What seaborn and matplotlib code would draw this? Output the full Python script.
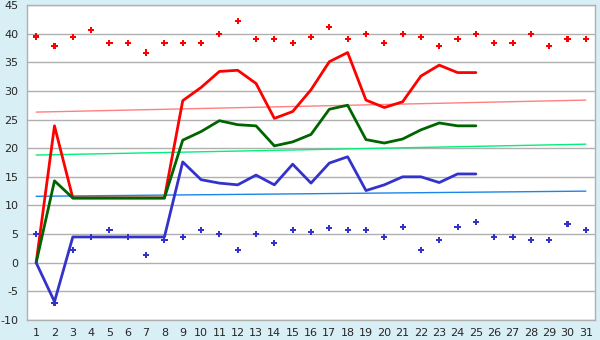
import numpy as np
import pandas as pd
import matplotlib
matplotlib.use("Agg")
import matplotlib.pyplot as plt
import seaborn as sns

# days on the x axis
days = list(range(1, 32))

# scatter series (upper red dots, lower blue dots)
red_dots = [39.5, 37.8, 39.4, 40.6, 38.3, 38.3, 36.7, 38.3, 38.3, 38.3,
            40.0, 42.2, 39.0, 39.0, 38.3, 39.4, 41.1, 39.0, 40.0, 38.3,
            40.0, 39.4, 37.9, 39.0, 40.0, 38.3, 38.3, 40.0, 37.8, 39.0, 39.0]
blue_dots = [5.0, -7.1, 2.2, 4.5, 5.7, 4.5, 1.3, 3.9, 4.5, 5.7,
             5.0, 2.2, 5.0, 3.4, 5.7, 5.3, 6.0, 5.7, 5.7, 4.5,
             6.2, 2.2, 3.9, 6.2, 7.1, 4.5, 4.5, 3.9, 3.9, 6.7, 5.7]

# line series (days 1..25)
line_days = list(range(1, 26))
red_line = [0, 23.9, 11.3, 11.3, 11.3, 11.3, 11.3, 11.3, 28.3, 30.6,
            33.4, 33.6, 31.3, 25.2, 26.4, 30.2, 35.1, 36.7, 28.4, 27.1,
            28.1, 32.6, 34.5, 33.2, 33.2]
green_line = [0, 14.3, 11.3, 11.3, 11.3, 11.3, 11.3, 11.3, 21.4, 22.9,
              24.8, 24.1, 23.9, 20.4, 21.1, 22.4, 26.8, 27.5, 21.5, 20.9,
              21.6, 23.2, 24.4, 23.9, 23.9]
blue_line = [0, -6.8, 4.5, 4.5, 4.5, 4.5, 4.5, 4.5, 17.6, 14.5,
             13.9, 13.6, 15.3, 13.6, 17.2, 13.9, 17.4, 18.5, 12.6, 13.6,
             15.0, 15.0, 14.0, 15.5, 15.5]

# trend lines: value at day 1 and day 31
trend_days = [1, 31]
red_trend = [26.3, 28.4]
green_trend = [18.8, 20.7]
blue_trend = [11.6, 12.5]

sns.set_style("white")
plt.rcParams['font.family'] = ['DejaVu Sans']
plt.rcParams['axes.unicode_minus'] = False

fig = plt.figure(figsize=(6, 3.4), dpi=100, facecolor='#d9eff6')
ax = fig.add_axes([27 / 600, 1 - 320 / 340, 568 / 600, 315 / 340])
ax.set_facecolor('white')

# trend lines
sns.lineplot(x=trend_days, y=red_trend, color='#ff8080', lw=1, ax=ax)
sns.lineplot(x=trend_days, y=green_trend, color='#00f07a', lw=1, ax=ax)
sns.lineplot(x=trend_days, y=blue_trend, color='#1a86e8', lw=1, ax=ax)

# main lines
sns.lineplot(x=line_days, y=red_line, color='#ff0000', lw=2, ax=ax)
sns.lineplot(x=line_days, y=green_line, color='#006400', lw=2, ax=ax)
sns.lineplot(x=line_days, y=blue_line, color='#3333cc', lw=2, ax=ax)

# dots
sns.scatterplot(x=days, y=red_dots, color='#ff0000', marker='P', s=20,
                edgecolor='none', ax=ax, zorder=3)
sns.scatterplot(x=days, y=blue_dots, color='#3333cc', marker='P', s=20,
                edgecolor='none', ax=ax, zorder=3)

ax.set_xlim(0.5, 31.5)
ax.set_ylim(-10, 45)
ax.set_xticks(days)
ax.set_yticks(range(-10, 46, 5))
ax.yaxis.grid(True, color='#b0b0b0', lw=1)
ax.set_axisbelow(True)
for s in ax.spines.values():
    s.set_color('#b0b0b0')
    s.set_linewidth(1)
ax.tick_params(axis='both', length=4, width=1, color='#000000',
               labelsize=8, pad=2)

fig.savefig('out.png', dpi=100, facecolor=fig.get_facecolor())
